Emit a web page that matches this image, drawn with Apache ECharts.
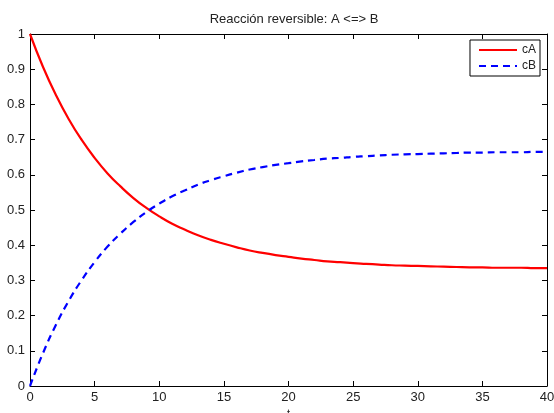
<!DOCTYPE html>
<html>
<head>
<meta charset="utf-8">
<script src="https://cdn.jsdelivr.net/npm/echarts@6/dist/echarts.min.js"></script>
<style>
html, body { margin: 0; padding: 0; background: #fff; }
#chart { width: 554px; height: 413px; }
</style>
</head>
<body>
<div id="chart"></div>
<script>
// t -- tiempo
// cA -- concentración de A
// cB -- concentración de B
var tiempo = [0, 1, 2, 3, 4, 5, 6, 7, 8, 9, 10, 11, 12, 13, 14, 15, 16, 17, 18, 19, 20,
	21, 22, 23, 24, 25, 26, 27, 28, 29, 30, 31, 32, 33, 34, 35, 36, 37, 38, 39, 40];
var cA = [1.000, 0.907, 0.827, 0.758, 0.699, 0.648, 0.604, 0.567, 0.534, 0.506, 0.482,
	0.461, 0.444, 0.428, 0.415, 0.404, 0.394, 0.385, 0.378, 0.372, 0.367,
	0.362, 0.358, 0.354, 0.352, 0.349, 0.347, 0.345, 0.343, 0.342, 0.341,
	0.340, 0.339, 0.338, 0.337, 0.337, 0.336, 0.336, 0.336, 0.335, 0.335];
var cB = [0.000, 0.093, 0.173, 0.242, 0.301, 0.352, 0.396, 0.433, 0.466, 0.494, 0.518,
	0.539, 0.556, 0.572, 0.585, 0.596, 0.606, 0.615, 0.622, 0.628, 0.633,
	0.638, 0.642, 0.646, 0.648, 0.651, 0.653, 0.655, 0.657, 0.658, 0.659,
	0.660, 0.661, 0.662, 0.663, 0.663, 0.664, 0.664, 0.664, 0.665, 0.665];
var titulo = 'Reacción reversible: A <=> B';

var fuente = '"Liberation Sans", Arial, Helvetica, sans-serif';
var myChart = echarts.init(document.getElementById('chart'));

//pares [t, valor] para los ejes de valores
function pares(ys) {
	return tiempo.map(function(t, i){ return [t, ys[i]]; });
}

//eje con marcas hacia dentro, estilo matlab
function eje(extra) {
	var base = {
		type: 'value',
		axisLine: { show: true, onZero: false, lineStyle: { color: '#000', width: 1 } },
		axisTick: { show: true, inside: true, length: 5, lineStyle: { color: '#000' } },
		splitLine: { show: false },
		axisLabel: { color: '#222', fontSize: 13, fontFamily: fuente }
	};
	for (var k in extra) base[k] = extra[k];
	return base;
}

var option = {
	backgroundColor: '#fff',
	animation: false,
	title: {
		text: titulo,
		left: 289, textAlign: 'center', top: 8,
		textStyle: { fontSize: 13, fontWeight: 'normal', color: '#222', fontFamily: fuente }
	},
	grid: { left: 30, right: 7, top: 34, bottom: 27, containLabel: false, outerBoundsMode: 'none' },
	legend: {
		orient: 'vertical',
		right: 14, top: 40,
		padding: [4, 4, 4, 8],
		itemGap: 4,
		itemWidth: 38, itemHeight: 12,
		borderColor: '#000', borderWidth: 1, borderRadius: 0,
		backgroundColor: '#fff',
		itemStyle: { opacity: 0 },
		textStyle: { fontSize: 12, color: '#222', fontFamily: fuente },
		data: ['cA', 'cB']
	},
	xAxis: [
		eje({ min: 0, max: 40, interval: 5, position: 'bottom',
			name: 't', nameLocation: 'middle', nameGap: 22,
			nameTextStyle: { fontSize: 11, color: '#222', fontFamily: fuente },
			axisLabel: { color: '#222', fontSize: 13, fontFamily: fuente, margin: 5 } }),
		eje({ min: 0, max: 40, interval: 5, position: 'top', axisLabel: { show: false } })
	],
	yAxis: [
		eje({ min: 0, max: 1, interval: 0.1, position: 'left',
			axisLabel: { color: '#222', fontSize: 13, fontFamily: fuente, margin: 5 } }),
		eje({ min: 0, max: 1, interval: 0.1, position: 'right', axisLabel: { show: false } })
	],
	series: [
		{
			name: 'cA', type: 'line', smooth: true, symbol: 'none',
			data: pares(cA),
			itemStyle: { color: '#ff0000' },
			lineStyle: { color: '#ff0000', width: 2.2 }
		},
		{
			name: 'cB', type: 'line', smooth: true, symbol: 'none',
			data: pares(cB),
			itemStyle: { color: '#0000ff' },
			lineStyle: { color: '#0000ff', width: 2.2, type: [7, 5] }
		}
	]
};
myChart.setOption(option);
</script>
</body>
</html>
